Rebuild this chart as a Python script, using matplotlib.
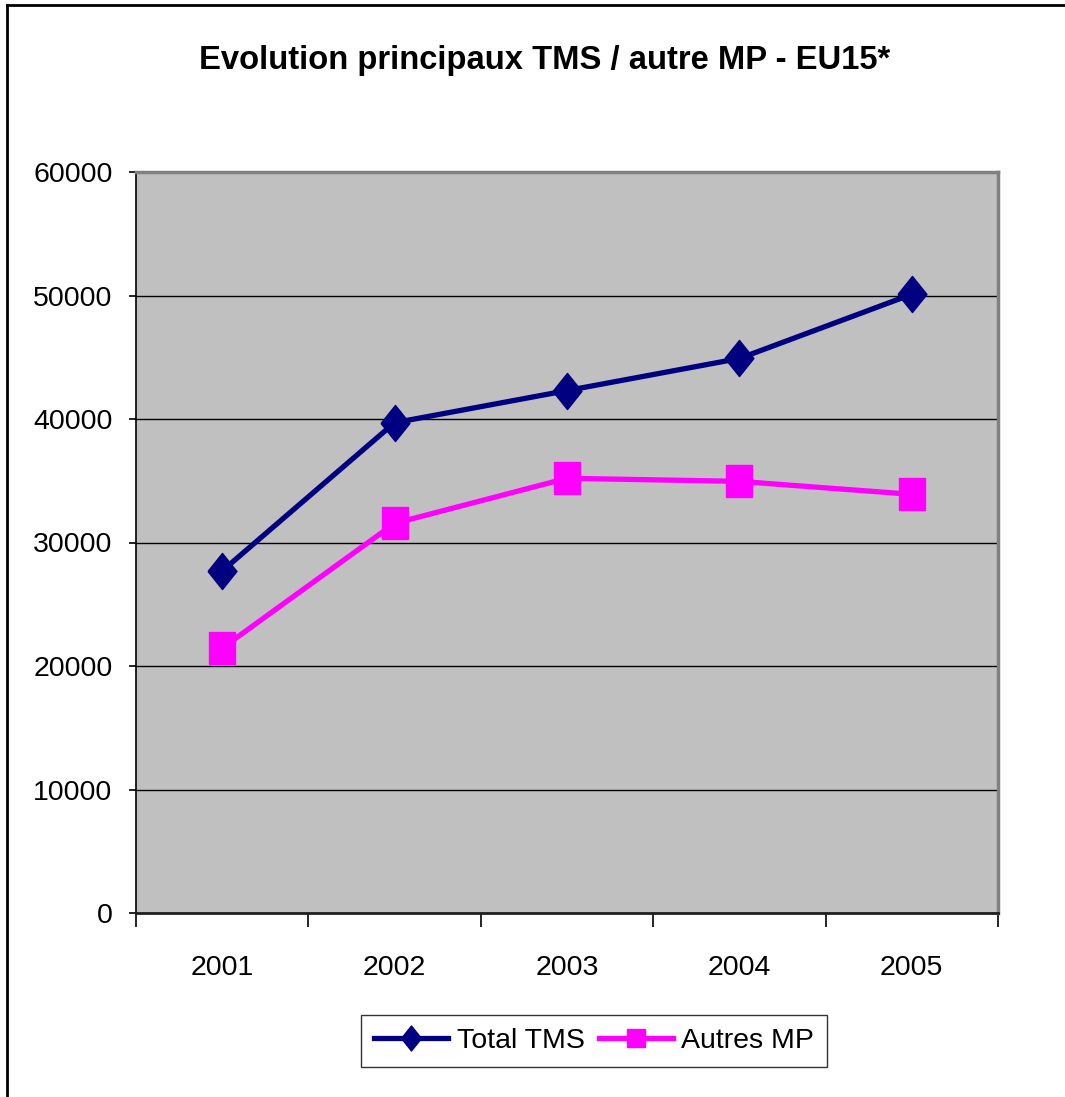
import matplotlib
matplotlib.use("Agg")
import matplotlib.pyplot as plt
from matplotlib.lines import Line2D
import numpy as np

plt.rcParams["font.family"] = ["Liberation Sans", "DejaVu Sans"]

years = ["2001", "2002", "2003", "2004", "2005"]
total_tms = [27700, 39700, 42300, 44900, 50100]
autres_mp = [21450, 31550, 35200, 34950, 33900]
y_ticks = [0, 10000, 20000, 30000, 40000, 50000, 60000]

NAVY = "#000080"
MAGENTA = "#FF00FF"

# slightly tall markers, like the original Excel export
diamond = [(-0.4, 0), (0, 0.5), (0.4, 0), (0, -0.5), (-0.4, 0)]
square = [(-0.41, -0.5), (0.41, -0.5), (0.41, 0.5), (-0.41, 0.5), (-0.41, -0.5)]

fig = plt.figure(figsize=(10.65, 10.97), dpi=100)
ax = fig.add_axes([136 / 1065, 1 - 913 / 1097, 862 / 1065, 741 / 1097])
ax.set_facecolor("#C0C0C0")

x = np.arange(len(years)) + 0.5
ax.plot(x, total_tms, color=NAVY, lw=3.8, marker=diamond, ms=26, zorder=3)
ax.plot(x, autres_mp, color=MAGENTA, lw=3.8, marker=square, ms=23.5, zorder=3)

ax.set_xlim(0, len(years))
ax.set_ylim(0, 60000)
ax.set_yticks(y_ticks)
ax.set_yticklabels([str(v) for v in y_ticks], fontsize=20.5)
ax.set_xticks(np.arange(len(years) + 1))
ax.set_xticklabels([])
ax.set_xticks(x, minor=True)
ax.set_xticklabels(years, minor=True, fontsize=20.5)
ax.tick_params(axis="x", which="major", direction="out", length=10, width=1.2, color="black")
ax.tick_params(axis="x", which="minor", length=0, pad=30)
ax.tick_params(axis="y", direction="out", length=5, width=1.2, pad=12)
ax.yaxis.grid(True, color="black", lw=1)
ax.set_axisbelow(True)

ax.spines["left"].set_color("black")
ax.spines["left"].set_linewidth(1.2)
ax.spines["bottom"].set_color("#202020")
ax.spines["bottom"].set_linewidth(2)
ax.spines["top"].set_color("#808080")
ax.spines["top"].set_linewidth(2.5)
ax.spines["right"].set_color("#808080")
ax.spines["right"].set_linewidth(2.5)

fig.text(545 / 1065, 1 - 60 / 1097, "Evolution principaux TMS / autre MP - EU15*",
         ha="center", va="center", fontsize=23.6, fontweight="bold")

handles = [
    Line2D([], [], color=NAVY, lw=3.8, marker=diamond, ms=18),
    Line2D([], [], color=MAGENTA, lw=3.8, marker="s", ms=13),
]
leg = fig.legend(handles, ["Total TMS", "Autres MP"], loc="center",
                 bbox_to_anchor=(594 / 1065, 1 - 1041 / 1097), ncol=2,
                 fontsize=20.5, frameon=True, fancybox=False, handlelength=2.6,
                 handletextpad=0.3, columnspacing=0.5, borderpad=0.45)
leg.get_frame().set_edgecolor("black")
leg.get_frame().set_linewidth(1)

# outer chart border (left and top only are visible)
fig.add_artist(Line2D([7 / 1065, 7 / 1065], [0, 1 - 5 / 1097], color="black", lw=2))
fig.add_artist(Line2D([7 / 1065, 1], [1 - 5 / 1097, 1 - 5 / 1097], color="black", lw=2))

fig.savefig("out.png", dpi=100)
